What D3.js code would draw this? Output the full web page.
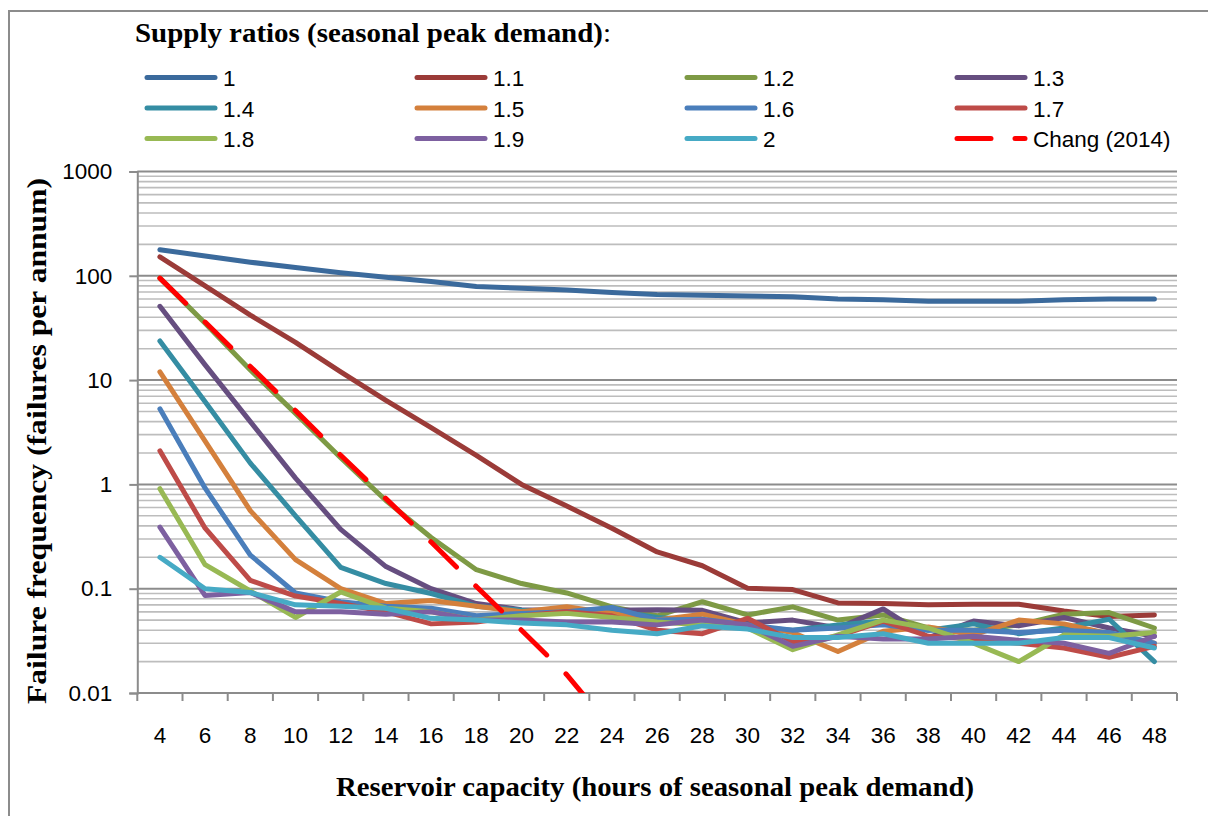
<!DOCTYPE html>
<html>
<head>
<meta charset="utf-8">
<script src="https://cdn.jsdelivr.net/npm/d3@7"></script>
<style>
  html, body { margin: 0; padding: 0; background: #ffffff; }
  svg { display: block; }
</style>
</head>
<body>
<script>
// Reservoir capacity, hours of seasonal peak demand
const categories = [4, 6, 8, 10, 12, 14, 16, 18, 20, 22, 24, 26, 28, 30, 32, 34, 36, 38, 40, 42, 44, 46, 48];

// Supply ratio series names
const seriesNames = ["1", "1.1", "1.2", "1.3", "1.4", "1.5", "1.6", "1.7", "1.8", "1.9", "2"];

// Failure frequency (failures per annum), one array per supply ratio
const ratio10 = [178, 155, 135, 120, 107, 97, 88, 79, 76, 73, 69, 66, 65, 64, 63, 60, 59, 57, 57, 57, 59, 60, 60];
const ratio11 = [152, 80, 42, 23, 12, 6.4, 3.5, 1.9, 1.0, 0.62, 0.38, 0.225, 0.166, 0.101, 0.098, 0.073, 0.072, 0.070, 0.071, 0.071, 0.061, 0.054, 0.056];
const ratio12 = [95, 35, 12.5, 4.8, 1.8, 0.7, 0.31, 0.152, 0.112, 0.091, 0.067, 0.055, 0.075, 0.056, 0.067, 0.050, 0.056, 0.042, 0.040, 0.045, 0.057, 0.059, 0.042];
const ratio13 = [51, 14, 4.0, 1.15, 0.37, 0.163, 0.10, 0.072, 0.063, 0.062, 0.062, 0.063, 0.062, 0.047, 0.050, 0.042, 0.064, 0.034, 0.049, 0.044, 0.053, 0.042, 0.035];
const ratio14 = [23.7, 6.2, 1.6, 0.5, 0.16, 0.112, 0.09, 0.068, 0.062, 0.058, 0.062, 0.053, 0.050, 0.043, 0.040, 0.045, 0.049, 0.040, 0.046, 0.037, 0.042, 0.051, 0.020];
const ratio15 = [12, 2.6, 0.56, 0.19, 0.10, 0.072, 0.077, 0.068, 0.060, 0.067, 0.058, 0.050, 0.057, 0.045, 0.038, 0.025, 0.039, 0.043, 0.036, 0.050, 0.046, 0.037, 0.030];
const ratio16 = [5.3, 0.92, 0.21, 0.091, 0.075, 0.068, 0.065, 0.055, 0.058, 0.060, 0.066, 0.050, 0.051, 0.045, 0.040, 0.042, 0.045, 0.040, 0.040, 0.038, 0.040, 0.038, 0.030];
const ratio17 = [2.1, 0.38, 0.12, 0.085, 0.072, 0.060, 0.046, 0.048, 0.055, 0.060, 0.055, 0.040, 0.037, 0.052, 0.031, 0.035, 0.049, 0.035, 0.033, 0.030, 0.027, 0.022, 0.028];
const ratio18 = [0.91, 0.17, 0.095, 0.053, 0.093, 0.065, 0.060, 0.050, 0.055, 0.058, 0.053, 0.048, 0.045, 0.042, 0.026, 0.036, 0.050, 0.042, 0.030, 0.020, 0.036, 0.035, 0.038];
const ratio19 = [0.39, 0.086, 0.092, 0.060, 0.060, 0.057, 0.060, 0.050, 0.050, 0.048, 0.048, 0.045, 0.050, 0.045, 0.028, 0.035, 0.033, 0.033, 0.035, 0.032, 0.030, 0.024, 0.035];
const ratio20 = [0.20, 0.10, 0.092, 0.070, 0.068, 0.065, 0.052, 0.050, 0.047, 0.045, 0.040, 0.037, 0.044, 0.041, 0.034, 0.034, 0.037, 0.030, 0.030, 0.030, 0.034, 0.034, 0.027];

// Chang (2014) reference curve (falls below the axis minimum after 22 h)
const changValues = [95, 36, 13.5, 5.1, 1.9, 0.73, 0.28, 0.105, 0.04, 0.015, 0.0045];
const changName = "Chang (2014)";

// Y axis ticks
const yTickValues = [0.01, 0.1, 1, 10, 100, 1000];
const yTickLabels = ["0.01", "0.1", "1", "10", "100", "1000"];

const seriesValues = [ratio10, ratio11, ratio12, ratio13, ratio14, ratio15, ratio16, ratio17, ratio18, ratio19, ratio20];
const seriesColors = ["#3b6a9c", "#9b3b38", "#7e9a45", "#664e80", "#358da3", "#d4803c",
                      "#4a7ebb", "#be4b48", "#98b954", "#7d60a0", "#46aac5"];
const changColor = "#ff0000";

const W = 1208, H = 816;
const plot = { left: 137.3, right: 1177, top: 171.5, bottom: 693 };
const serif = "'Liberation Serif', 'Times New Roman', serif";
const sans = "'Liberation Sans', Arial, sans-serif";

const svg = d3.select("body").append("svg")
  .attr("width", W).attr("height", H)
  .attr("viewBox", `0 0 ${W} ${H}`);

// Chart area frame
svg.append("rect")
  .attr("x", 9).attr("y", 11)
  .attr("width", W + 20).attr("height", H + 20)
  .attr("fill", "#ffffff")
  .attr("stroke", "#8c8c8c").attr("stroke-width", 2);

const x = d3.scaleBand()
  .domain(categories)
  .range([plot.left, plot.right])
  .paddingInner(0).paddingOuter(0);
const cx = d => x(d) + x.bandwidth() / 2;

const y = d3.scaleLog()
  .domain([0.01, 1000])
  .range([plot.bottom, plot.top]);

// Minor gridlines (2..9 within each decade)
const minorValues = [];
[0.01, 0.1, 1, 10, 100].forEach(dec => {
  for (let k = 2; k <= 9; k++) minorValues.push(k * dec);
});
svg.append("g")
  .selectAll("line")
  .data(minorValues)
  .join("line")
  .attr("x1", plot.left).attr("x2", plot.right)
  .attr("y1", d => y(d)).attr("y2", d => y(d))
  .attr("stroke", "#bdbdbd").attr("stroke-width", 1.6);

// Major gridlines
svg.append("g")
  .selectAll("line")
  .data(yTickValues.slice(1))
  .join("line")
  .attr("x1", plot.left).attr("x2", plot.right)
  .attr("y1", d => y(d)).attr("y2", d => y(d))
  .attr("stroke", "#8c8c8c").attr("stroke-width", 2);

// Y axis
const yAxis = d3.axisLeft(y)
  .tickValues(yTickValues)
  .tickFormat((d, i) => yTickLabels[i])
  .tickSize(8)
  .tickPadding(17);
const gy = svg.append("g")
  .attr("transform", `translate(${plot.left},0)`)
  .call(yAxis);
gy.select(".domain").attr("stroke", "#8c8c8c").attr("stroke-width", 2);
gy.selectAll(".tick line").attr("stroke", "#8c8c8c").attr("stroke-width", 2);
gy.selectAll(".tick text")
  .attr("font-family", sans)
  .attr("font-size", 22.5)
  .attr("fill", "#000000");

// X axis: tick marks on category boundaries, labels at category centres
const gx = svg.append("g");
gx.append("line")
  .attr("x1", plot.left).attr("x2", plot.right)
  .attr("y1", plot.bottom).attr("y2", plot.bottom)
  .attr("stroke", "#8c8c8c").attr("stroke-width", 2);
const boundaries = categories.map(c => x(c)).concat([x(categories[categories.length - 1]) + x.bandwidth()]);
gx.selectAll("line.tick")
  .data(boundaries)
  .join("line")
  .attr("class", "tick")
  .attr("x1", d => d).attr("x2", d => d)
  .attr("y1", plot.bottom).attr("y2", plot.bottom + 8)
  .attr("stroke", "#8c8c8c").attr("stroke-width", 2);
gx.selectAll("text")
  .data(categories)
  .join("text")
  .attr("x", d => cx(d))
  .attr("y", 743)
  .attr("text-anchor", "middle")
  .attr("font-family", sans)
  .attr("font-size", 22.5)
  .attr("fill", "#000000")
  .text(d => d);

// Clip lines to the plot area
svg.append("clipPath").attr("id", "plot-clip")
  .append("rect")
  .attr("x", plot.left).attr("y", plot.top)
  .attr("width", plot.right - plot.left).attr("height", plot.bottom - plot.top);

const line = d3.line()
  .x((d, i) => cx(categories[i]))
  .y(d => y(d));

const gLines = svg.append("g").attr("clip-path", "url(#plot-clip)");
seriesValues.forEach((vals, i) => {
  gLines.append("path")
    .datum(vals)
    .attr("d", line)
    .attr("fill", "none")
    .attr("stroke", seriesColors[i])
    .attr("stroke-width", 5)
    .attr("stroke-linejoin", "round")
    .attr("stroke-linecap", "round");
});
gLines.append("path")
  .datum(changValues)
  .attr("d", line)
  .attr("fill", "none")
  .attr("stroke", changColor)
  .attr("stroke-width", 5)
  .attr("stroke-dasharray", "36 27")
  .attr("stroke-linecap", "round");

// Legend heading
svg.append("text")
  .attr("x", 135).attr("y", 42)
  .attr("font-family", serif)
  .attr("font-size", 28)
  .attr("fill", "#000000")
  .attr("textLength", 476)
  .attr("lengthAdjust", "spacingAndGlyphs")
  .call(t => {
    t.append("tspan").attr("font-weight", "bold").text("Supply ratios (seasonal peak demand)");
    t.append("tspan").attr("font-weight", "normal").text(":");
  });

const legendItems = seriesNames.map((n, i) => ({ name: n, color: seriesColors[i], dash: null }))
  .concat([{ name: changName, color: changColor, dash: "34 24" }]);
const legendCols = 4;
const colX0 = 147, colStep = 270, rowY0 = 77.5, rowStep = 30.5;
const gLegend = svg.append("g");
legendItems.forEach((it, i) => {
  const col = i % legendCols, row = Math.floor(i / legendCols);
  const lx = colX0 + col * colStep, ly = rowY0 + row * rowStep;
  const g = gLegend.append("g").attr("transform", `translate(${lx},${ly})`);
  g.append("line")
    .attr("x1", 0).attr("x2", 68)
    .attr("y1", 0).attr("y2", 0)
    .attr("stroke", it.color)
    .attr("stroke-width", 5)
    .attr("stroke-linecap", "round")
    .attr("stroke-dasharray", it.dash);
  g.append("text")
    .attr("x", 76).attr("y", 8.5)
    .attr("font-family", sans)
    .attr("font-size", 22.5)
    .attr("fill", "#000000")
    .text(it.name);
});

// Axis titles
svg.append("text")
  .attr("x", 655)
  .attr("y", 796)
  .attr("text-anchor", "middle")
  .attr("font-family", serif)
  .attr("font-weight", "bold")
  .attr("font-size", 28)
  .attr("fill", "#000000")
  .attr("textLength", 638)
  .attr("lengthAdjust", "spacingAndGlyphs")
  .text("Reservoir capacity (hours of seasonal peak demand)");

svg.append("text")
  .attr("transform", `translate(46,441) rotate(-90)`)
  .attr("text-anchor", "middle")
  .attr("font-family", serif)
  .attr("font-weight", "bold")
  .attr("font-size", 28)
  .attr("fill", "#000000")
  .attr("textLength", 526)
  .attr("lengthAdjust", "spacingAndGlyphs")
  .text("Failure frequency (failures per annum)");
</script>
</body>
</html>
